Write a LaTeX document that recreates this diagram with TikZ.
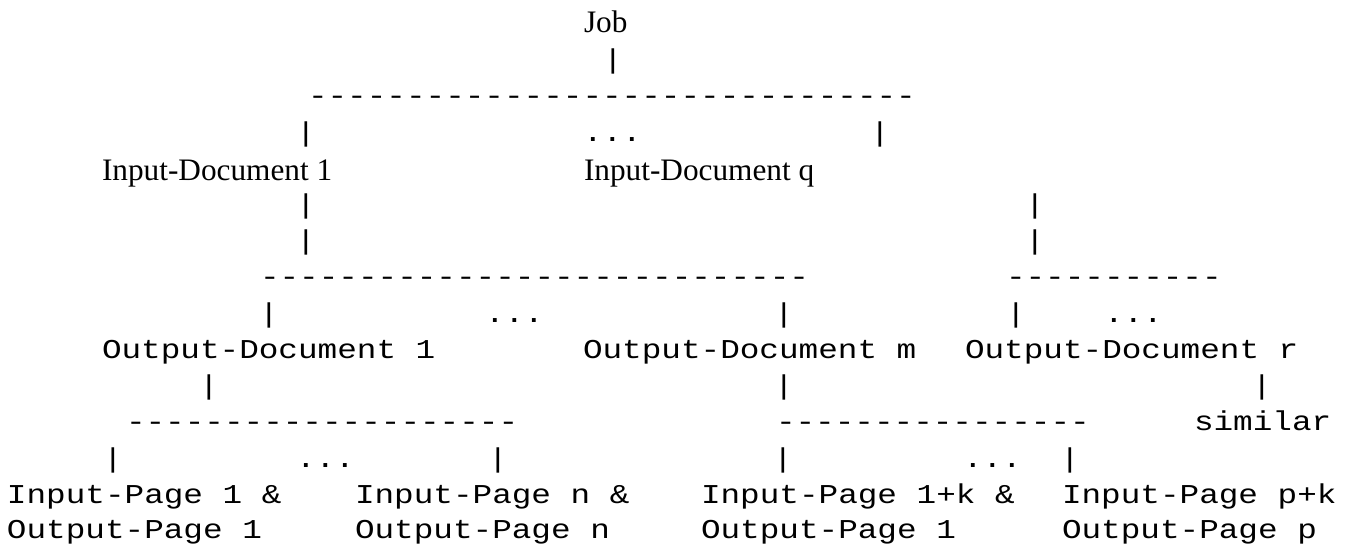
\documentclass[tikz,border=0pt]{standalone}
\usepackage{fontspec}
\newfontfamily\monofont[FakeStretch=1.2]{Liberation Mono}
\newfontfamily\serfont{Liberation Serif}
\begin{document}
\begin{tikzpicture}[x=0.02cm,y=-0.02cm,
  mono/.style={font=\monofont\fontsize{15.5}{18}\selectfont,anchor=base west,inner sep=0pt,outer sep=0pt},
  serif/.style={font=\serfont\fontsize{17.8}{20}\selectfont,anchor=base west,inner sep=0pt,outer sep=0pt},
  bar/.style={mono,anchor=base}]
\fill[white] (0,0) rectangle (1354,546);
\useasboundingbox (0,0) rectangle (1354,546);
% row 1
\node[serif] (job) at (584,33) {Job};
% row 2
\node[bar] (b2) at (613,69) {|};
% row 3
\node[mono] (d3) at (308,105) {-------------------------------};
% row 4
\node[bar] (b4a) at (306,142) {|};
\node[mono] (e4) at (583,142) {...};
\node[bar] (b4b) at (880,142) {|};
% row 5
\node[serif] (id1) at (102,181) {Input-Document 1};
\node[serif] (idq) at (584,181) {Input-Document q};
% rows 6,7
\node[bar] (b6a) at (306,214) {|};
\node[bar] (b6b) at (1035,214) {|};
\node[bar] (b7a) at (306,250) {|};
\node[bar] (b7b) at (1035,250) {|};
% row 8
\node[mono] (d8a) at (260,286) {----------------------------};
\node[mono] (d8b) at (1006,286) {-----------};
% row 9
\node[bar] (b9a) at (269,323) {|};
\node[mono] (e9a) at (485,323) {...};
\node[bar] (b9b) at (784,323) {|};
\node[bar] (b9c) at (1016,323) {|};
\node[mono] (e9b) at (1104,323) {...};
% row 10
\node[mono] (od1) at (102,359) {Output-Document 1};
\node[mono] (odm) at (583,359) {Output-Document m};
\node[mono] (odr) at (965,359) {Output-Document r};
% row 11
\node[bar] (b11a) at (209,395) {|};
\node[bar] (b11b) at (784,395) {|};
\node[bar] (b11c) at (1262,395) {|};
% row 12
\node[mono] (d12a) at (126,431) {--------------------};
\node[mono] (d12b) at (776,431) {----------------};
\node[mono] (sim) at (1194,431) {similar};
% row 13
\node[bar] (b13a) at (113,467) {|};
\node[mono] (e13a) at (296,467) {...};
\node[bar] (b13b) at (498,467) {|};
\node[bar] (b13c) at (783,467) {|};
\node[mono] (e13b) at (963,467) {...};
\node[bar] (b13d) at (1070,467) {|};
% row 14
\node[mono] (ip1) at (7,503) {Input-Page 1 \&};
\node[mono] (ipn) at (355,503) {Input-Page n \&};
\node[mono] (ip1k) at (701,503) {Input-Page 1+k \&};
\node[mono] (ippk) at (1062,503) {Input-Page p+k};
% row 15
\node[mono] (op1) at (7,538) {Output-Page 1};
\node[mono] (opn) at (355,538) {Output-Page n};
\node[mono] (op1b) at (701,538) {Output-Page 1};
\node[mono] (opp) at (1062,538) {Output-Page p};
\end{tikzpicture}
\end{document}
